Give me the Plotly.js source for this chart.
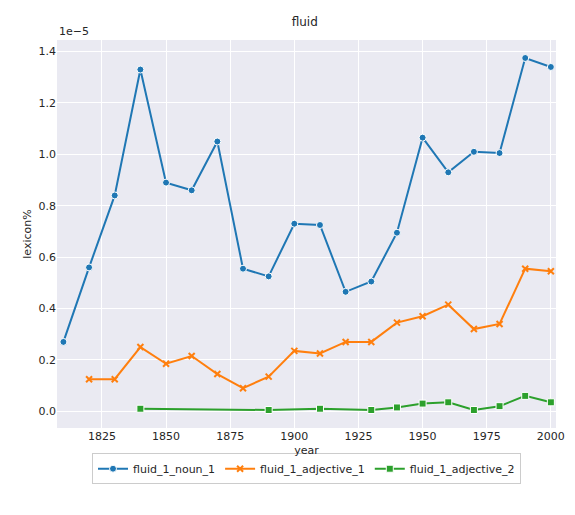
<!DOCTYPE html>
<html>
<head>
<script src="https://cdn.plot.ly/plotly-3.0.1.min.js"></script>
</head>
<body style="margin:0">
<div id="chart" style="width:575px;height:515px"></div>
<script>
// values in units of 1e-5
const nounYears = [1810, 1820, 1830, 1840, 1850, 1860, 1870, 1880, 1890, 1900, 1910, 1920, 1930, 1940, 1950, 1960, 1970, 1980, 1990, 2000];
const nounVals = [0.27, 0.56, 0.84, 1.33, 0.89, 0.86, 1.05, 0.555, 0.525, 0.73, 0.725, 0.465, 0.505, 0.695, 1.065, 0.93, 1.01, 1.005, 1.375, 1.34];
const adj1Years = [1820, 1830, 1840, 1850, 1860, 1870, 1880, 1890, 1900, 1910, 1920, 1930, 1940, 1950, 1960, 1970, 1980, 1990, 2000];
const adj1Vals = [0.125, 0.125, 0.25, 0.185, 0.215, 0.145, 0.09, 0.135, 0.235, 0.225, 0.27, 0.27, 0.345, 0.37, 0.415, 0.32, 0.34, 0.555, 0.545];
const adj2Years = [1840, 1890, 1910, 1930, 1940, 1950, 1960, 1970, 1980, 1990, 2000];
const adj2Vals = [0.01, 0.005, 0.01, 0.005, 0.015, 0.03, 0.035, 0.005, 0.02, 0.06, 0.035];

function series(name, x, y, color, symbol) {
    return {
        x: x, y: y, name: name, type: "scatter", mode: "lines+markers",
        line: { color: color, width: 2 },
        marker: { color: color, symbol: symbol, size: symbol === "x-thin" ? 6 : 7,
                  line: { color: symbol === "x-thin" ? color : "white", width: symbol === "x-thin" ? 2 : 1 } }
    };
}

const data = [
    series("fluid_1_noun_1", nounYears, nounVals, "#1f77b4", "circle"),
    series("fluid_1_adjective_1", adj1Years, adj1Vals, "#ff7f0e", "x-thin"),
    series("fluid_1_adjective_2", adj2Years, adj2Vals, "#2ca02c", "square")
];

const layout = {
    width: 575, height: 515,
    margin: { l: 57, r: 19, t: 40, b: 87 },
    paper_bgcolor: "white", plot_bgcolor: "#EAEAF2",
    font: { family: "DejaVu Sans, Arial", size: 11, color: "#262626" },
    title: { text: "fluid", x: 0.53, y: 0.965, font: { size: 12 } },
    xaxis: {
        title: { text: "year", standoff: 4, font: { size: 11 } }, range: [1807.5, 2002],
        tickvals: [1825, 1850, 1875, 1900, 1925, 1950, 1975, 2000],
        gridcolor: "white", gridwidth: 1, zeroline: false, ticks: "", automargin: false
    },
    yaxis: {
        title: { text: "lexicon%", standoff: 4, font: { size: 11 } }, range: [-0.065, 1.445],
        tickvals: [0, 0.2, 0.4, 0.6, 0.8, 1.0, 1.2, 1.4], tickformat: ".1f",
        gridcolor: "white", gridwidth: 1, zeroline: false, ticks: "", automargin: false
    },
    showlegend: true,
    legend: {
        orientation: "h", x: 0.5, xanchor: "center", y: -0.065, yanchor: "top",
        bordercolor: "#cccccc", borderwidth: 1, font: { size: 11 }
    },
    annotations: [{
        text: "1e\u22125", xref: "paper", yref: "paper", x: 0, y: 1,
        xanchor: "left", yanchor: "bottom", showarrow: false, font: { size: 11 }
    }]
};

Plotly.newPlot("chart", data, layout, { displayModeBar: false });
</script>
</body>
</html>
